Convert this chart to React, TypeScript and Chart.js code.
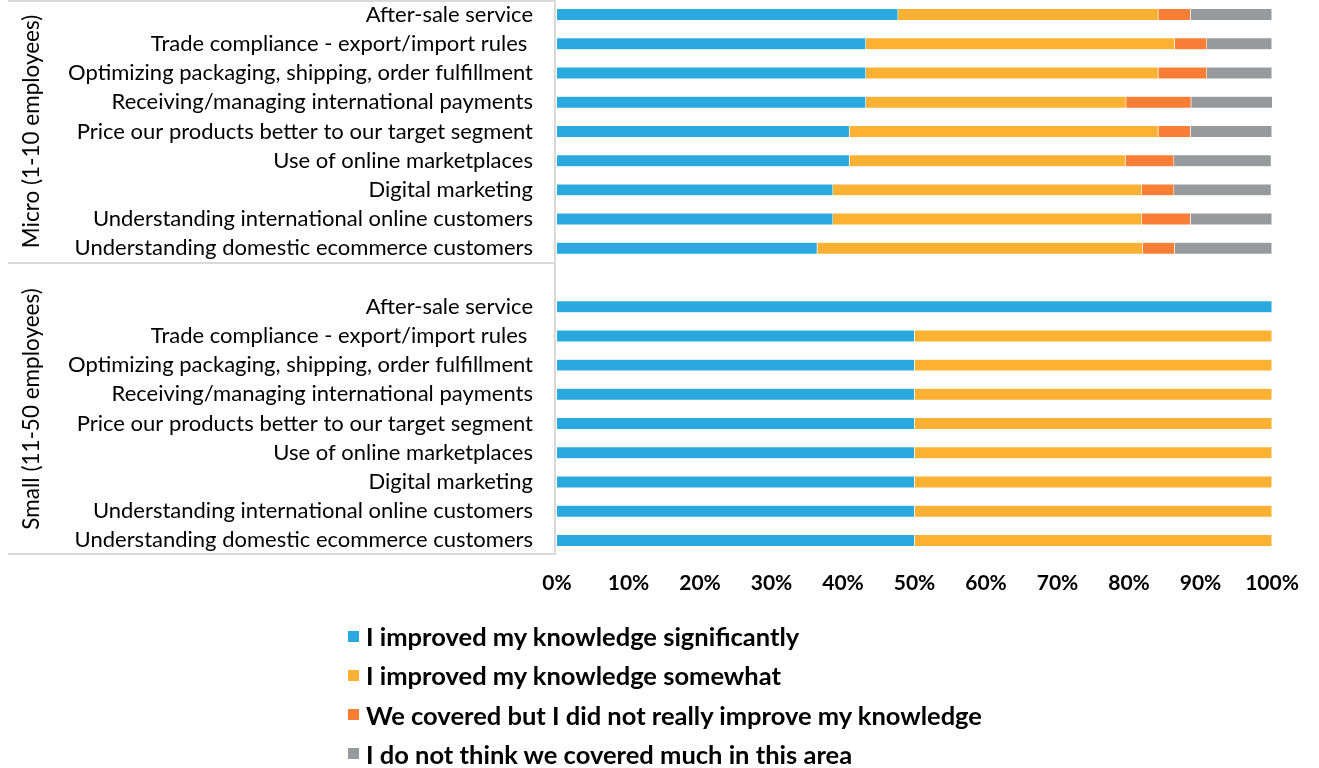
import React, { useEffect, useRef } from "react";
import { Chart, registerables } from "chart.js";

Chart.register(...registerables);

const categories = [
  "After-sale service",
  "Trade compliance - export/import rules ",
  "Optimizing packaging, shipping, order fulfillment",
  "Receiving/managing international payments",
  "Price our products better to our target segment",
  "Use of online marketplaces",
  "Digital marketing",
  "Understanding international online customers",
  "Understanding domestic ecommerce customers",
];
const groups = ["Micro (1-10 employees)", "Small (11-50 employees)"];
const seriesNames = [
  "I improved my knowledge significantly",
  "I improved my knowledge somewhat",
  "We covered but I did not really improve my knowledge",
  "I do not think we covered much in this area",
];
const seriesColors = ["#29A9E0", "#FCB132", "#F87E35", "#97999C"];

const microSignificantly = [47.7, 43.2, 43.2, 43.2, 40.9, 40.9, 38.6, 38.6, 36.4];
const microSomewhat = [36.4, 43.2, 40.9, 36.4, 43.2, 38.6, 43.2, 43.2, 45.5];
const microNoImprove = [4.5, 4.5, 6.8, 9.1, 4.5, 6.8, 4.5, 6.8, 4.5];
const microNotCovered = [11.4, 9.1, 9.1, 11.4, 11.4, 13.6, 13.6, 11.4, 13.6];

const smallSignificantly = [100, 50, 50, 50, 50, 50, 50, 50, 50];
const smallSomewhat = [0, 50, 50, 50, 50, 50, 50, 50, 50];
const smallNoImprove = [0, 0, 0, 0, 0, 0, 0, 0, 0];
const smallNotCovered = [0, 0, 0, 0, 0, 0, 0, 0, 0];

const xTicks = [0, 10, 20, 30, 40, 50, 60, 70, 80, 90, 100];

const FONT = "Lato, 'Open Sans', sans-serif";
const LINE = "#D9D9D9";

const labels = [...categories, "", ...categories];
const seriesData = [
  [...microSignificantly, null, ...smallSignificantly],
  [...microSomewhat, null, ...smallSomewhat],
  [...microNoImprove, null, ...smallNoImprove],
  [...microNotCovered, null, ...smallNotCovered],
];

const groupPlugin = {
  id: "groupAxis",
  afterDraw(chart: any) {
    const y = chart.scales.y;
    const ctx = chart.ctx;
    const n = categories.length;
    const top = y.getPixelForValue(-0.5);
    const mid = y.getPixelForValue(n - 0.5);
    const bot = y.getPixelForValue(2 * n + 0.5);
    const axisX = chart.chartArea.left - 2;
    ctx.save();
    ctx.strokeStyle = LINE;
    ctx.lineWidth = 2;
    ctx.beginPath();
    [Math.max(top, 1), mid, bot - 1].forEach((py) => {
      ctx.moveTo(8, py);
      ctx.lineTo(axisX, py);
    });
    ctx.moveTo(axisX, Math.max(top, 0));
    ctx.lineTo(axisX, bot);
    ctx.stroke();
    ctx.fillStyle = "#000";
    ctx.font = `22.5px ${FONT}`;
    ctx.textAlign = "center";
    ctx.textBaseline = "middle";
    const spans = [
      [top, mid],
      [mid, bot],
    ];
    groups.forEach((g, i) => {
      const cy = (spans[i][0] + spans[i][1]) / 2;
      ctx.save();
      ctx.translate(32, cy);
      ctx.rotate(-Math.PI / 2);
      ctx.fillText(g, 0, 0);
      ctx.restore();
    });
    ctx.restore();
  },
};

export default function App() {
  const ref = useRef<HTMLCanvasElement | null>(null);
  useEffect(() => {
    if (!ref.current) return;
    const chart = new Chart(ref.current, {
      type: "bar",
      data: {
        labels,
        datasets: seriesNames.map((name, i) => ({
          label: name,
          data: seriesData[i],
          backgroundColor: seriesColors[i],
          borderColor: "rgba(255,255,255,0.6)",
          borderWidth: 0.5,
          barPercentage: 0.41,
          categoryPercentage: 1,
        })),
      },
      options: {
        indexAxis: "y",
        animation: false,
        responsive: false,
        maintainAspectRatio: false,
        layout: { padding: { left: 0, right: 47, top: 0, bottom: 163 } },
        plugins: { legend: { display: false }, tooltip: { enabled: false } },
        scales: {
          x: {
            stacked: true,
            min: 0,
            max: 100,
            afterBuildTicks: (scale: any) => {
              scale.ticks = xTicks.map((v) => ({ value: v }));
            },
            afterFit: (scale: any) => {
              scale.height = 50;
              scale.paddingLeft = 0;
              scale.paddingRight = 0;
            },
            grid: { display: false, drawTicks: false },
            border: { display: false },
            ticks: {
              padding: 16,
              color: "#000",
              font: { family: FONT, size: 21, weight: "bold" },
              callback: (v: any) => `${v}%`,
            },
          },
          y: {
            stacked: true,
            afterFit: (scale: any) => {
              scale.width = 557;
              scale.paddingTop = 0;
              scale.paddingBottom = 0;
            },
            grid: { display: false, drawTicks: false },
            border: { display: false },
            ticks: {
              autoSkip: false,
              padding: 24,
              color: "#000",
              font: { family: FONT, size: 22 },
            },
          },
        },
      },
      plugins: [groupPlugin],
    });
    return () => chart.destroy();
  }, []);

  return (
    <div style={{ position: "absolute", left: 0, top: 0, width: 1319, height: 768, background: "#fff", fontFamily: FONT }}>
      <canvas ref={ref} width={1319} height={768} style={{ position: "absolute", left: 0, top: 0 }} />
      {seriesNames.map((name, i) => (
        <div
          key={name}
          style={{
            position: "absolute",
            left: 348,
            top: 636 + i * 39.3 - 16,
            height: 32,
            display: "flex",
            alignItems: "center",
            fontSize: 25.5,
            fontWeight: "bold",
            color: "#000",
            whiteSpace: "nowrap",
          }}
        >
          <span style={{ display: "inline-block", width: 11, height: 11, background: seriesColors[i], marginRight: 7, flex: "none" }} />
          <span>{name}</span>
        </div>
      ))}
    </div>
  );
}
